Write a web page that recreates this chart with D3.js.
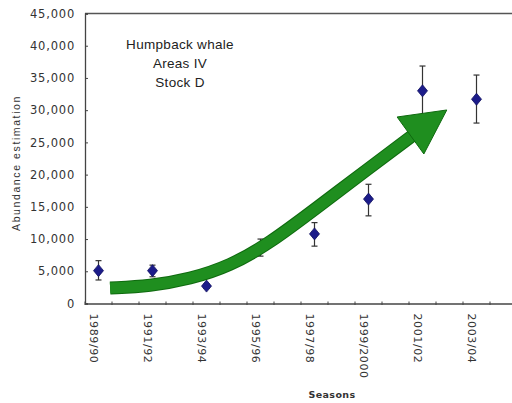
<!DOCTYPE html>
<html><head><meta charset="utf-8">
<script src="https://cdn.jsdelivr.net/npm/d3@7"></script>
<style>body{margin:0;background:#fff}svg{display:block}</style>
</head><body><svg id="c" width="512" height="403"></svg>
<script>
const seasons = ["1989/90","1990/91","1991/92","1992/93","1993/94","1994/95","1995/96","1996/97","1997/98","1998/99","1999/2000","2000/01","2001/02","2002/03","2003/04","2004/05"];
const labelSeasons = ["1989/90","1991/92","1993/94","1995/96","1997/98","1999/2000","2001/02","2003/04"];
const surveySeasons = ["1989/90","1991/92","1993/94","1995/96","1997/98","1999/2000","2001/02","2003/04"];
const abundance = [5100, 5100, 2700, 8700, 10800, 16200, 33000, 31700];
const lower = [3650, 4150, 2350, 7350, 8900, 13600, 29200, 28000];
const upper = [6650, 5950, 3050, 10000, 12550, 18500, 36850, 35450];
const yTicks = [0,5000,10000,15000,20000,25000,30000,35000,40000,45000];
const titleLines = ["Humpback whale","Areas IV","Stock D"];
// trend arrow path in (season index, abundance)
const arrowIdx = [0.43, 1.91, 3.39, 4.87, 6.35, 8.02, 9.98, 11.61];
const arrowVal = [2400, 2715, 3800, 5820, 9390, 14660, 20870, 26000];
const headIdx = [11.06, 12.9, 12.05];
const headVal = [28940, 30030, 23200];

const svg = d3.select("#c");
const L = 85, T = 13.5, B = 303.5;
const x = d3.scaleBand().domain(seasons).range([L, L + 27*seasons.length]);
const xi = d3.scaleLinear().domain([0,1]).range([L + x.bandwidth()/2, L + x.bandwidth()*1.5]);
const y = d3.scaleLinear().domain([0,45000]).range([B, T]);

// frame
svg.append("line").attr("x1",L).attr("x2",520).attr("y1",T).attr("y2",T).attr("stroke","#555").attr("stroke-width",1.3);

const ya = svg.append("g").attr("transform",`translate(${L},0)`)
  .call(d3.axisLeft(y).tickValues(yTicks).tickSize(-3).tickPadding(10).tickFormat(d3.format(",")));
ya.select(".domain").attr("stroke","#444").attr("stroke-width",1.3);
ya.selectAll(".tick line").attr("stroke","#444");
ya.selectAll("text").attr("font-family","DejaVu Sans").attr("font-size",11.5).attr("letter-spacing","0.8px").attr("fill","#333");

const xa = svg.append("g").attr("transform",`translate(0,${B})`)
  .call(d3.axisBottom(x).tickValues([]).tickSizeOuter(0));
xa.select(".domain").attr("stroke","#444").attr("stroke-width",1.3);
// boundary ticks
svg.append("g").selectAll("line").data(seasons).join("line")
  .attr("x1",d=>x(d)).attr("x2",d=>x(d)).attr("y1",B-2).attr("y2",B+1.5)
  .attr("stroke","#444");
// x labels
svg.append("g").selectAll("text").data(labelSeasons).join("text")
  .attr("transform",d=>`translate(${x(d)+x.bandwidth()/2-5},${B+10}) rotate(90)`)
  .attr("dy","0.35em")
  .attr("font-family","DejaVu Sans").attr("font-size",11).attr("letter-spacing","0.6px").attr("fill","#333")
  .text(d=>d);

svg.append("text").attr("x",332).attr("y",398).attr("text-anchor","middle")
  .attr("font-family","DejaVu Sans").attr("font-size",9.5).attr("font-weight","bold").attr("fill","#333").attr("letter-spacing","0.4px")
  .text("Seasons");
svg.append("text").attr("transform","translate(20,163) rotate(-90)").attr("text-anchor","middle")
  .attr("font-family","Liberation Sans").attr("font-size",10.5).attr("letter-spacing","1.6px").attr("fill","#333")
  .text("Abundance estimation");

// title
svg.append("g").selectAll("text").data(titleLines).join("text")
  .attr("x",180).attr("y",(d,i)=>49+i*19).attr("text-anchor","middle")
  .attr("font-family","Liberation Sans").attr("font-size",13.5).attr("letter-spacing","0.3px").attr("fill","#222")
  .text(d=>d);

// error bars
const eb = svg.append("g").attr("stroke","#333").attr("stroke-width",1.2);
surveySeasons.forEach((s,i)=>{
  const cx = x(s)+x.bandwidth()/2;
  eb.append("line").attr("x1",cx).attr("x2",cx).attr("y1",y(lower[i])).attr("y2",y(upper[i]));
  eb.append("line").attr("x1",cx-3).attr("x2",cx+3).attr("y1",y(lower[i])).attr("y2",y(lower[i]));
  eb.append("line").attr("x1",cx-3).attr("x2",cx+3).attr("y1",y(upper[i])).attr("y2",y(upper[i]));
});
// diamonds
svg.append("g").selectAll("path").data(surveySeasons).join("path")
  .attr("transform",(d,i)=>`translate(${x(d)+x.bandwidth()/2},${y(abundance[i])})`)
  .attr("d","M0,-6L5,0L0,6L-5,0Z").attr("fill","#1c1c8a").attr("stroke","#101060").attr("stroke-width",0.8);

// arrow
const pts = arrowIdx.map((v,i)=>[xi(v), y(arrowVal[i])]);
const line = d3.line().curve(d3.curveBasis);
svg.append("path").attr("d",line(pts)).attr("fill","none").attr("stroke","#0f6a0f").attr("stroke-width",13);
svg.append("path").attr("d",line(pts)).attr("fill","none").attr("stroke","#1f8e1f").attr("stroke-width",11);
svg.append("path").attr("d",d3.line()(headIdx.map((v,i)=>[xi(v), y(headVal[i])]))+"Z")
  .attr("fill","#1f8e1f").attr("stroke","#0f6a0f").attr("stroke-width",1);
</script></body></html>
